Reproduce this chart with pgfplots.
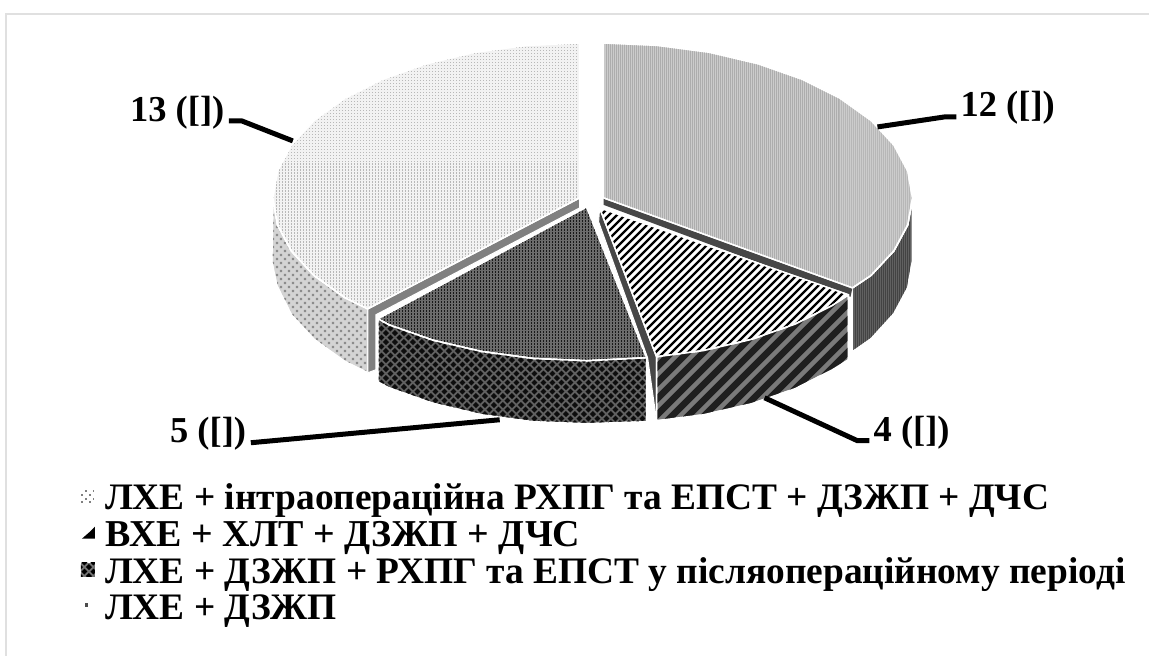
\documentclass[border=0pt]{standalone}
\usepackage{fontspec}
\setmainfont{Liberation Serif}
\usepackage{pgfplots}
\pgfplotsset{compat=1.18}
\usetikzlibrary{patterns}
% vertical fine lines
\pgfdeclarepatternformonly{fineV}{\pgfqpoint{-0.1pt}{-0.1pt}}{\pgfqpoint{2.1pt}{2.1pt}}{\pgfqpoint{2pt}{2pt}}{%
  \pgfpathrectangle{\pgfpointorigin}{\pgfqpoint{1pt}{2pt}}\pgfusepath{fill}}
% fine dots
\pgfdeclarepatternformonly{fineD}{\pgfqpoint{-0.1pt}{-0.1pt}}{\pgfqpoint{3.1pt}{3.1pt}}{\pgfqpoint{3pt}{3pt}}{%
  \pgfpathrectangle{\pgfpointorigin}{\pgfqpoint{1.4pt}{1.4pt}}\pgfusepath{fill}}
% sparse staggered dots
\pgfdeclarepatternformonly{sparseD}{\pgfqpoint{0pt}{0pt}}{\pgfqpoint{8pt}{8pt}}{\pgfqpoint{8pt}{8pt}}{%
  \pgfpathrectangle{\pgfqpoint{1pt}{1pt}}{\pgfqpoint{2.2pt}{2.2pt}}\pgfusepath{fill}
  \pgfpathrectangle{\pgfqpoint{5pt}{5pt}}{\pgfqpoint{2.2pt}{2.2pt}}\pgfusepath{fill}}
% diagonal stripes period 8
\pgfdeclarepatternformonly{diagA}{\pgfqpoint{0pt}{0pt}}{\pgfqpoint{8pt}{8pt}}{\pgfqpoint{8pt}{8pt}}{%
  \pgfsetlinewidth{2.4pt}%
  \pgfpathmoveto{\pgfqpoint{-1pt}{-1pt}}\pgfpathlineto{\pgfqpoint{9pt}{9pt}}%
  \pgfpathmoveto{\pgfqpoint{-5pt}{3pt}}\pgfpathlineto{\pgfqpoint{5pt}{13pt}}%
  \pgfpathmoveto{\pgfqpoint{3pt}{-5pt}}\pgfpathlineto{\pgfqpoint{13pt}{5pt}}%
  \pgfusepath{stroke}}
% diagonal stripes period 16
\pgfdeclarepatternformonly{diagB}{\pgfqpoint{0pt}{0pt}}{\pgfqpoint{16pt}{16pt}}{\pgfqpoint{16pt}{16pt}}{%
  \pgfsetlinewidth{6.4pt}%
  \pgfpathmoveto{\pgfqpoint{-1pt}{-1pt}}\pgfpathlineto{\pgfqpoint{17pt}{17pt}}%
  \pgfpathmoveto{\pgfqpoint{-9pt}{7pt}}\pgfpathlineto{\pgfqpoint{9pt}{25pt}}%
  \pgfpathmoveto{\pgfqpoint{7pt}{-9pt}}\pgfpathlineto{\pgfqpoint{25pt}{9pt}}%
  \pgfusepath{stroke}}
% diamonds
\pgfdeclarepatternformonly{diam}{\pgfqpoint{0pt}{0pt}}{\pgfqpoint{9pt}{9pt}}{\pgfqpoint{9pt}{9pt}}{%
  \pgfpathmoveto{\pgfqpoint{4.5pt}{1.5pt}}\pgfpathlineto{\pgfqpoint{7.5pt}{4.5pt}}\pgfpathlineto{\pgfqpoint{4.5pt}{7.5pt}}\pgfpathlineto{\pgfqpoint{1.5pt}{4.5pt}}\pgfpathclose
  \pgfpathmoveto{\pgfqpoint{0pt}{-3pt}}\pgfpathlineto{\pgfqpoint{3pt}{0pt}}\pgfpathlineto{\pgfqpoint{0pt}{3pt}}\pgfpathlineto{\pgfqpoint{-3pt}{0pt}}\pgfpathclose
  \pgfpathmoveto{\pgfqpoint{9pt}{-3pt}}\pgfpathlineto{\pgfqpoint{12pt}{0pt}}\pgfpathlineto{\pgfqpoint{9pt}{3pt}}\pgfpathlineto{\pgfqpoint{6pt}{0pt}}\pgfpathclose
  \pgfpathmoveto{\pgfqpoint{0pt}{6pt}}\pgfpathlineto{\pgfqpoint{3pt}{9pt}}\pgfpathlineto{\pgfqpoint{0pt}{12pt}}\pgfpathlineto{\pgfqpoint{-3pt}{9pt}}\pgfpathclose
  \pgfpathmoveto{\pgfqpoint{9pt}{6pt}}\pgfpathlineto{\pgfqpoint{12pt}{9pt}}\pgfpathlineto{\pgfqpoint{9pt}{12pt}}\pgfpathlineto{\pgfqpoint{6pt}{9pt}}\pgfpathclose
  \pgfusepath{fill}}
\tikzset{
  face/.style n args={3}{draw=white,line width=1.5pt,line join=round,
     preaction={fill=#1},pattern=#2,pattern color=#3},
  lead/.style={draw=black,line width=5pt,line join=miter},
  lab/.style={anchor=base west,inner sep=0pt,font=\fontsize{36.5}{36.5}\selectfont\bfseries},
  leg/.style={anchor=base west,inner sep=0pt,font=\fontsize{37.4}{37.4}\selectfont\bfseries}
}
\begin{document}
\begin{tikzpicture}
\begin{axis}[
  at={(0pt,0pt)},anchor=south west,
  scale only axis,width=1150pt,height=657pt,
  xmin=0,xmax=1150,ymin=0,ymax=657,y dir=reverse,
  axis lines=none,no markers,clip=false]
% page
\addplot[fill=white,draw=none] coordinates {(0,0)(1150,0)(1150,657)(0,657)} --cycle;
% frame
\addplot[draw=black!12,line width=1.4pt] coordinates {(6,656)(6,14)(1150,14)};
% slice 12: side
\addplot[face={black!62}{fineV}{black!80}] coordinates {(913,198)(908.3,224.9)(894.4,251)(871.6,275.5)(853,288)(853,352)(871.6,339)(894.4,314)(908.3,288)(913,261)} --cycle;
% slice 12: inner wall
\addplot[fill=black!72,draw=none] coordinates {(604,198)(853,288)(851,297)(604,205)} --cycle;
% slice 12: top
\addplot[face={black!20}{fineV}{black!32}] coordinates {(604,198)(604,43)(657.6,45.4)(709.7,52.3)(758.5,63.8)(802.6,79.3)(840.7,98.4)(871.6,120.5)(894.4,145)(908.3,171.1)(913,198)(908.3,224.9)(894.4,251)(871.6,275.5)(853,288)} --cycle;
% slice 13: side
\addplot[face={black!17}{sparseD}{black!45}] coordinates {(273,198)(277.7,224.9)(291.5,251)(314.1,275.5)(344.8,297.6)(368,309)(368,373)(344.8,361.6)(314.1,339.5)(291.5,315)(277,286)(272,262)} --cycle;
% slice 13: inner wall
\addplot[fill=black!50,draw=white,line width=1pt] coordinates {(580,198)(368,309)(368,373)(376,370)(376,315)(580,208)} --cycle;
% slice 13: top
\addplot[face={black!5}{fineD}{black!28}] coordinates {(580,198)(580,43)(526.7,45.4)(475,52.3)(426.5,63.8)(382.7,79.3)(344.8,98.4)(314.1,120.5)(291.5,145)(277.7,171.1)(273,198)(277.7,224.9)(291.5,251)(314.1,275.5)(344.8,297.6)(368,309)} --cycle;
% slice 4: inner wall
\addplot[fill=black!72,draw=white,line width=1pt] coordinates {(600,208)(657,357)(657,421)(648,358)(599,222)} --cycle;
% slice 4: top
\addplot[face={white}{diagA}{black}] coordinates {(600,208)(849,295)(832.9,305.7)(795.4,324.4)(752,339.6)(704,350.8)(657,357)} --cycle;
% slice 4: front
\addplot[face={black!52}{diagB}{black!88}] coordinates {(849,295)(832.9,305.7)(795.4,324.4)(752,339.6)(704,350.8)(657,357)(657,421)(704,415)(752,404)(795.4,389)(832.9,370)(849,360)} --cycle;
% slice 5: top
\addplot[face={black!58}{fineD}{black!90}] coordinates {(587,207)(647,358)(587,361)(533.5,358.7)(481.7,351.7)(433,340.4)(389,325)(378,319)} --cycle;
% slice 5: front
\addplot[face={black!62}{diam}{black!95}] coordinates {(647,358)(587,361)(533.5,358.7)(481.7,351.7)(433,340.4)(389,325)(378,319)(378,382)(389,388)(433,403.5)(481.7,415)(533.5,422)(587,424)(647,422)} --cycle;
% leaders
\addplot[lead] coordinates {(229,121)(242,121)(293,141)};
\addplot[lead] coordinates {(878,127)(945,117)(957,117)};
\addplot[lead] coordinates {(765,398)(858,441)(870,441)};
\addplot[lead] coordinates {(251,443)(500,420)};
% data labels
\node[lab] at (axis cs:130,122) {13 ([])};
\node[lab] at (axis cs:961,117) {12 ([])};
\node[lab] at (axis cs:874,442) {4 ([])};
\node[lab] at (axis cs:170,443) {5 ([])};
% legend keys
\addplot[fill=black!8,draw=none,pattern=sparseD,pattern color=black!50] coordinates {(81,490)(94,490)(94,503)(81,503)} --cycle;
\addplot[fill=black,draw=none] coordinates {(82,539)(95,539)(95,527)(90,532)} --cycle;
\addplot[fill=black!55,draw=none,preaction={fill=black!55},pattern=diam,pattern color=black] coordinates {(81,563)(95,563)(95,577)(81,577)} --cycle;
\addplot[fill=black!70,draw=none] coordinates {(85,603)(88,603)(88,607)(85,607)} --cycle;
% legend text
\node[leg] at (axis cs:105,510) {ЛХЕ + інтраопераційна РХПГ та ЕПСТ + ДЗЖП + ДЧС};
\node[leg,font=\fontsize{38}{38}\selectfont\bfseries] at (axis cs:105,547) {ВХЕ + ХЛТ + ДЗЖП + ДЧС};
\node[leg] at (axis cs:105,584) {ЛХЕ + ДЗЖП + РХПГ та ЕПСТ у післяопераційному періоді};
\node[leg] at (axis cs:105,620) {ЛХЕ + ДЗЖП};
\end{axis}
\end{tikzpicture}
\end{document}
